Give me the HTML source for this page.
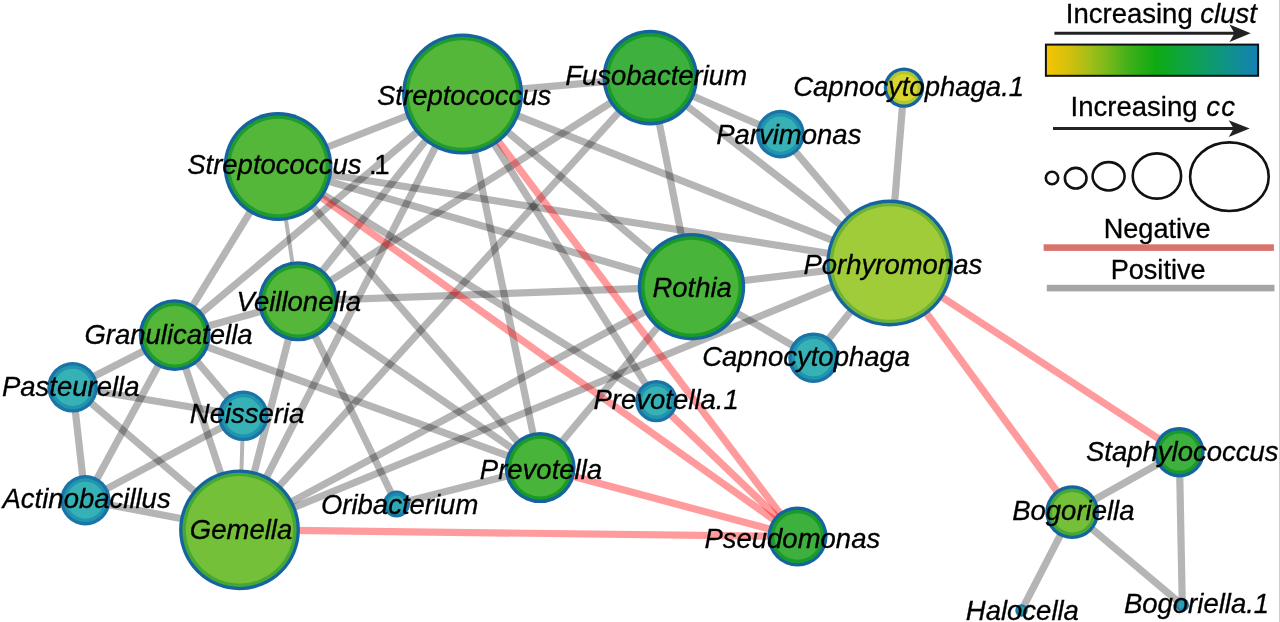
<!DOCTYPE html>
<html><head><meta charset="utf-8"><title>Network</title>
<style>
html,body{margin:0;padding:0;background:#fff;}
body{width:1280px;height:622px;overflow:hidden;}
svg{display:block;will-change:transform;}
text{font-family:"Liberation Sans",sans-serif;fill:#000;stroke:#000;stroke-width:0.3px;}
.lab{font-style:italic;font-size:27.5px;}
.leg{font-size:27.5px;}
</style></head><body>
<svg width="1280" height="622" viewBox="0 0 1280 622">
<defs><linearGradient id="grad" x1="0" x2="1" y1="0" y2="0"><stop offset="0" stop-color="#f7c400"/><stop offset="0.11" stop-color="#d2c00e"/><stop offset="0.2" stop-color="#a6be17"/><stop offset="0.3" stop-color="#73b81b"/><stop offset="0.39" stop-color="#40b019"/><stop offset="0.52" stop-color="#0eaa12"/><stop offset="0.66" stop-color="#0da446"/><stop offset="0.75" stop-color="#0d9d64"/><stop offset="0.85" stop-color="#0f9386"/><stop offset="0.94" stop-color="#1388a2"/><stop offset="1" stop-color="#1580b2"/></linearGradient></defs>
<rect width="1280" height="622" fill="#fff"/>
<g stroke="#000" stroke-opacity="0.29" fill="none" stroke-linecap="butt">
<line x1="462.6" y1="94.0" x2="278.0" y2="166.5" stroke-width="7.2"/>
<line x1="462.6" y1="94.0" x2="650.3" y2="77.6" stroke-width="7.2"/>
<line x1="462.6" y1="94.0" x2="174.7" y2="335.2" stroke-width="7.2"/>
<line x1="462.6" y1="94.0" x2="298.2" y2="301.2" stroke-width="7.2"/>
<line x1="462.6" y1="94.0" x2="239.5" y2="529.8" stroke-width="7.2"/>
<line x1="462.6" y1="94.0" x2="540.1" y2="467.6" stroke-width="7.2"/>
<line x1="462.6" y1="94.0" x2="656.4" y2="401.1" stroke-width="7.2"/>
<line x1="462.6" y1="94.0" x2="691.5" y2="286.7" stroke-width="7.2"/>
<line x1="462.6" y1="94.0" x2="889.7" y2="263.0" stroke-width="7.2"/>
<line x1="278.0" y1="166.5" x2="889.7" y2="263.0" stroke-width="7.2"/>
<line x1="278.0" y1="166.5" x2="691.5" y2="286.7" stroke-width="7.2"/>
<line x1="278.0" y1="166.5" x2="656.4" y2="401.1" stroke-width="7.2"/>
<line x1="278.0" y1="166.5" x2="540.1" y2="467.6" stroke-width="7.2"/>
<line x1="278.0" y1="166.5" x2="298.2" y2="301.2" stroke-width="4"/>
<line x1="278.0" y1="166.5" x2="174.7" y2="335.2" stroke-width="7.2"/>
<line x1="650.3" y1="77.6" x2="780.5" y2="134.1" stroke-width="7.2"/>
<line x1="650.3" y1="77.6" x2="889.7" y2="263.0" stroke-width="7.2"/>
<line x1="650.3" y1="77.6" x2="691.5" y2="286.7" stroke-width="7.2"/>
<line x1="650.3" y1="77.6" x2="298.2" y2="301.2" stroke-width="7.2"/>
<line x1="650.3" y1="77.6" x2="239.5" y2="529.8" stroke-width="7.2"/>
<line x1="780.5" y1="134.1" x2="889.7" y2="263.0" stroke-width="7.2"/>
<line x1="904.0" y1="87.6" x2="889.7" y2="263.0" stroke-width="7.2"/>
<line x1="691.5" y1="286.7" x2="889.7" y2="263.0" stroke-width="7.2"/>
<line x1="691.5" y1="286.7" x2="813.5" y2="357.7" stroke-width="7.2"/>
<line x1="813.5" y1="357.7" x2="889.7" y2="263.0" stroke-width="7.2"/>
<line x1="691.5" y1="286.7" x2="298.2" y2="301.2" stroke-width="7.2"/>
<line x1="691.5" y1="286.7" x2="239.5" y2="529.8" stroke-width="7.2"/>
<line x1="691.5" y1="286.7" x2="540.1" y2="467.6" stroke-width="7.2"/>
<line x1="239.5" y1="529.8" x2="889.7" y2="263.0" stroke-width="7.2"/>
<line x1="298.2" y1="301.2" x2="174.7" y2="335.2" stroke-width="7.2"/>
<line x1="298.2" y1="301.2" x2="239.5" y2="529.8" stroke-width="7.2"/>
<line x1="298.2" y1="301.2" x2="396.5" y2="504.0" stroke-width="7.2"/>
<line x1="298.2" y1="301.2" x2="540.1" y2="467.6" stroke-width="7.2"/>
<line x1="174.7" y1="335.2" x2="72.6" y2="387.3" stroke-width="7.2"/>
<line x1="174.7" y1="335.2" x2="85.4" y2="500.2" stroke-width="7.2"/>
<line x1="174.7" y1="335.2" x2="243.2" y2="415.8" stroke-width="7.2"/>
<line x1="174.7" y1="335.2" x2="239.5" y2="529.8" stroke-width="7.2"/>
<line x1="174.7" y1="335.2" x2="540.1" y2="467.6" stroke-width="7.2"/>
<line x1="72.6" y1="387.3" x2="243.2" y2="415.8" stroke-width="7.2"/>
<line x1="72.6" y1="387.3" x2="85.4" y2="500.2" stroke-width="7.2"/>
<line x1="72.6" y1="387.3" x2="239.5" y2="529.8" stroke-width="7.2"/>
<line x1="85.4" y1="500.2" x2="243.2" y2="415.8" stroke-width="7.2"/>
<line x1="85.4" y1="500.2" x2="239.5" y2="529.8" stroke-width="7.2"/>
<line x1="243.2" y1="415.8" x2="239.5" y2="529.8" stroke-width="4"/>
<line x1="396.5" y1="504.0" x2="540.1" y2="467.6" stroke-width="7.2"/>
<line x1="1179.3" y1="452.2" x2="1072.2" y2="512.2" stroke-width="7.2"/>
<line x1="1179.3" y1="452.2" x2="1182.3" y2="604.9" stroke-width="7.2"/>
<line x1="1072.2" y1="512.2" x2="1182.3" y2="604.9" stroke-width="7.2"/>
<line x1="1072.2" y1="512.2" x2="1021.5" y2="610.5" stroke-width="7.2"/>
</g>
<g stroke="#ff0008" stroke-opacity="0.395" fill="none">
<line x1="462.6" y1="94.0" x2="797.5" y2="536.5" stroke-width="7.2"/>
<line x1="656.4" y1="401.1" x2="797.5" y2="536.5" stroke-width="7.2"/>
<line x1="278.0" y1="166.5" x2="797.5" y2="536.5" stroke-width="7.2"/>
<line x1="540.1" y1="467.6" x2="797.5" y2="536.5" stroke-width="7.2"/>
<line x1="239.5" y1="529.8" x2="797.5" y2="536.5" stroke-width="7.2"/>
<line x1="889.7" y1="263.0" x2="1179.3" y2="452.2" stroke-width="7.2"/>
<line x1="889.7" y1="263.0" x2="1072.2" y2="512.2" stroke-width="7.2"/>
</g>
<g>
<circle cx="462.6" cy="94.0" r="60.5" fill="#15649d"/><circle cx="462.6" cy="94.0" r="57.2" fill="#209c2e"/><circle cx="462.6" cy="94.0" r="53.8" fill="#54b73a"/>
<circle cx="278.0" cy="166.5" r="54.4" fill="#15649d"/><circle cx="278.0" cy="166.5" r="51.1" fill="#209c2e"/><circle cx="278.0" cy="166.5" r="47.7" fill="#54b73a"/>
<circle cx="650.3" cy="77.6" r="47.8" fill="#15649d"/><circle cx="650.3" cy="77.6" r="44.5" fill="#1a9a2c"/><circle cx="650.3" cy="77.6" r="41.1" fill="#3db03d"/>
<circle cx="904.0" cy="87.6" r="20.2" fill="#15649d"/><circle cx="904.0" cy="87.6" r="16.9" fill="#afc633"/><circle cx="904.0" cy="87.6" r="13.5" fill="#d8d52f"/>
<circle cx="780.5" cy="134.1" r="24.3" fill="#1a74a7"/><circle cx="780.5" cy="134.1" r="21.0" fill="#2095ad"/><circle cx="780.5" cy="134.1" r="17.6" fill="#36b2b7"/>
<circle cx="889.7" cy="263.0" r="63.4" fill="#15649d"/><circle cx="889.7" cy="263.0" r="60.1" fill="#6db337"/><circle cx="889.7" cy="263.0" r="56.7" fill="#a0cc39"/>
<circle cx="691.5" cy="286.7" r="53.7" fill="#15649d"/><circle cx="691.5" cy="286.7" r="50.4" fill="#1a9b26"/><circle cx="691.5" cy="286.7" r="47.0" fill="#48b43a"/>
<circle cx="298.2" cy="301.2" r="40.0" fill="#15649d"/><circle cx="298.2" cy="301.2" r="36.7" fill="#209c2e"/><circle cx="298.2" cy="301.2" r="33.3" fill="#54b73a"/>
<circle cx="174.7" cy="335.2" r="35.9" fill="#15649d"/><circle cx="174.7" cy="335.2" r="32.6" fill="#209c2e"/><circle cx="174.7" cy="335.2" r="29.2" fill="#54b73a"/>
<circle cx="72.6" cy="387.3" r="25.3" fill="#1a74a7"/><circle cx="72.6" cy="387.3" r="22.0" fill="#2095ad"/><circle cx="72.6" cy="387.3" r="18.6" fill="#36b2b7"/>
<circle cx="243.2" cy="415.8" r="25.3" fill="#1a74a7"/><circle cx="243.2" cy="415.8" r="22.0" fill="#2095ad"/><circle cx="243.2" cy="415.8" r="18.6" fill="#36b2b7"/>
<circle cx="85.4" cy="500.2" r="25.2" fill="#1a74a7"/><circle cx="85.4" cy="500.2" r="21.9" fill="#2095ad"/><circle cx="85.4" cy="500.2" r="18.5" fill="#36b2b7"/>
<circle cx="239.5" cy="529.8" r="60.4" fill="#15649d"/><circle cx="239.5" cy="529.8" r="57.1" fill="#45a836"/><circle cx="239.5" cy="529.8" r="53.7" fill="#74c039"/>
<circle cx="396.5" cy="504.0" r="13.4" fill="#1a74a7"/><circle cx="396.5" cy="504.0" r="11.0" fill="#1e8aab"/><circle cx="396.5" cy="504.0" r="8.6" fill="#2fa6b5"/>
<circle cx="540.1" cy="467.6" r="35.5" fill="#15649d"/><circle cx="540.1" cy="467.6" r="32.2" fill="#1a9b26"/><circle cx="540.1" cy="467.6" r="28.8" fill="#48b43a"/>
<circle cx="656.4" cy="401.1" r="21.2" fill="#1a74a7"/><circle cx="656.4" cy="401.1" r="17.9" fill="#2095ad"/><circle cx="656.4" cy="401.1" r="14.5" fill="#36b2b7"/>
<circle cx="813.5" cy="357.7" r="25.3" fill="#1a74a7"/><circle cx="813.5" cy="357.7" r="22.0" fill="#2095ad"/><circle cx="813.5" cy="357.7" r="18.6" fill="#36b2b7"/>
<circle cx="797.5" cy="536.5" r="30.0" fill="#15649d"/><circle cx="797.5" cy="536.5" r="26.7" fill="#1a9a2c"/><circle cx="797.5" cy="536.5" r="23.3" fill="#3db03d"/>
<circle cx="1179.3" cy="452.2" r="25.3" fill="#15649d"/><circle cx="1179.3" cy="452.2" r="22.0" fill="#1a9a2c"/><circle cx="1179.3" cy="452.2" r="18.6" fill="#3db03d"/>
<circle cx="1072.2" cy="512.2" r="26.9" fill="#15649d"/><circle cx="1072.2" cy="512.2" r="23.6" fill="#45a836"/><circle cx="1072.2" cy="512.2" r="20.2" fill="#74c039"/>
<circle cx="1021.5" cy="610.5" r="6.2" fill="#1a74a7"/><circle cx="1021.5" cy="610.5" r="4.8" fill="#1c84aa"/><circle cx="1021.5" cy="610.5" r="3.4" fill="#2aa0b2"/>
<circle cx="1182.3" cy="604.9" r="6.7" fill="#1a74a7"/><circle cx="1182.3" cy="604.9" r="5.3" fill="#1c84aa"/><circle cx="1182.3" cy="604.9" r="3.9" fill="#2aa0b2"/>
</g>
<g class="lab">
<text x="377" y="104.5">Streptococcus</text>
<text x="187.2" y="173.8">Streptococcus <tspan font-style="normal">.</tspan><tspan font-style="normal" dx="-2.5">1</tspan></text>
<text x="565.2" y="85">Fusobacterium</text>
<text x="793.2" y="95.7">Capnocytophaga.1</text>
<text x="716.2" y="143.5">Parvimonas</text>
<text x="803.4" y="273.8">Porhyromonas</text>
<text x="652.4" y="296.8">Rothia</text>
<text x="236.6" y="311.3">Veillonella</text>
<text x="84.4" y="344.2">Granulicatella</text>
<text x="1.9" y="396.2">Pasteurella</text>
<text x="189.8" y="422.9">Neisseria</text>
<text x="2.5" y="507.8">Actinobacillus</text>
<text x="189.8" y="538.6">Gemella</text>
<text x="320.9" y="513.6">Oribacterium</text>
<text x="479.8" y="479.3">Prevotella</text>
<text x="593.5" y="409.1">Prevotella.1</text>
<text x="702.2" y="365.7">Capnocytophaga</text>
<text x="704.4" y="547.9">Pseudomonas</text>
<text x="1086" y="461.2">Staphylococcus</text>
<text x="1012.2" y="519.6">Bogoriella</text>
<text x="965.8" y="619.6">Halocella</text>
<text x="1123.9" y="613">Bogoriella.1</text>
</g>
<g class="leg">
<text x="1065.8" y="23">Increasing <tspan font-style="italic">clust</tspan></text>
<line x1="1054.4" y1="33.2" x2="1236" y2="33.2" stroke="#222" stroke-width="3"/>
<path d="M1250.7 33.2 L1229.5 24.4 L1234.5 33.2 L1229.5 42 Z" fill="#222"/>
<rect x="1045.9" y="44.6" width="212.2" height="31.2" fill="url(#grad)" stroke="#111" stroke-width="2"/>
<text x="1070.6" y="116">Increasing <tspan font-style="italic" dx="1" letter-spacing="1.4">cc</tspan></text>
<line x1="1053" y1="128.5" x2="1235" y2="128.5" stroke="#222" stroke-width="3"/>
<path d="M1249.7 128.5 L1228.7 120.2 L1233.7 128.5 L1228.7 136.9 Z" fill="#222"/>
<ellipse cx="1052" cy="178" rx="6.2" ry="6.2" fill="none" stroke="#111" stroke-width="2.6"/>
<ellipse cx="1075.7" cy="178.2" rx="10.8" ry="10.3" fill="none" stroke="#111" stroke-width="2.6"/>
<ellipse cx="1108.6" cy="176.3" rx="16" ry="14.2" fill="none" stroke="#111" stroke-width="2.6"/>
<ellipse cx="1156.9" cy="176" rx="24.2" ry="22.6" fill="none" stroke="#111" stroke-width="2.6"/>
<ellipse cx="1229.4" cy="176.7" rx="39.3" ry="34.3" fill="none" stroke="#111" stroke-width="2.6"/>
<text x="1103.7" y="238.2" style="font-size:27.1px">Negative</text>
<rect x="1043.6" y="244.3" width="230.3" height="6.6" fill="#d8746b"/>
<text x="1110.7" y="279.2" style="font-size:27.1px">Positive</text>
<rect x="1046.8" y="284.8" width="227.7" height="6.6" fill="#a5a5a5"/>
</g>
<rect x="1279" y="0" width="1" height="622" fill="#cdcdcd"/>
</svg>
</body></html>
